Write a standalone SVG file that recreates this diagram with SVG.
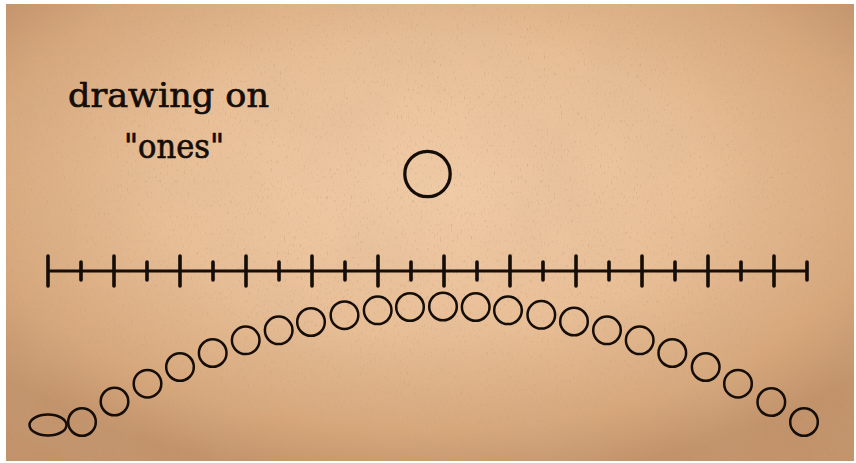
<svg xmlns="http://www.w3.org/2000/svg" width="856" height="463" viewBox="0 0 856 463">
  <defs>
    <radialGradient id="paper" cx="0.5" cy="0.4" r="0.65">
      <stop offset="0" stop-color="#F0CBA6"/>
      <stop offset="0.5" stop-color="#E8BE96"/>
      <stop offset="0.82" stop-color="#D7A77B"/>
      <stop offset="1" stop-color="#C2926A"/>
    </radialGradient>
    <filter id="grain" x="0" y="0" width="100%" height="100%">
      <feTurbulence type="fractalNoise" baseFrequency="0.7 0.25" numOctaves="3" seed="11" result="n"/>
      <feColorMatrix in="n" type="matrix" values="0 0 0 0 0.52  0 0 0 0 0.36  0 0 0 0 0.2  0 0 0 3.2 -2.0"/>
    </filter>
    <filter id="blot" x="0" y="0" width="100%" height="100%">
      <feTurbulence type="fractalNoise" baseFrequency="0.012" numOctaves="3" seed="3" result="n"/>
      <feColorMatrix in="n" type="matrix" values="0 0 0 0 0.6  0 0 0 0 0.43  0 0 0 0 0.27  0 0 0 0.9 -0.3"/>
    </filter>
  </defs>
  <style>
    .ink { stroke: #150d07; fill: none; }
    .axis { stroke-width: 3; }
    .tick { stroke-width: 3.6; stroke-linecap: round; }
    .one { stroke-width: 2.5; }
    .label { font-family: "DejaVu Serif", "Liberation Serif", serif; font-size: 34px; fill: #150d07; stroke: #150d07; stroke-width: 0.7; }
  </style>

  <rect x="0" y="0" width="856" height="463" fill="#FFFFFF"/>
  <g id="background">
    <rect x="6" y="4" width="848" height="457" fill="url(#paper)"/>
    <rect x="6" y="4" width="848" height="457" filter="url(#blot)" opacity="0.35"/>
    <rect x="6" y="4" width="848" height="457" filter="url(#grain)" opacity="0.6"/>
  </g>

  <g id="title">
    <text class="label" x="68" y="107" textLength="201" lengthAdjust="spacingAndGlyphs">drawing on</text>
    <text class="label" x="124" y="158" textLength="100" lengthAdjust="spacingAndGlyphs">"ones"</text>
  </g>

  <g id="single-one">
    <circle class="ink" cx="427.5" cy="174" r="22.7" stroke-width="3.3"/>
  </g>

  <g id="timeline" class="ink">
    <line class="axis" x1="48" y1="271" x2="807" y2="271"/>
    <g class="tick">
      <line x1="48" y1="256" x2="48" y2="286"/>
      <line x1="81" y1="262" x2="81" y2="280"/>
      <line x1="114" y1="256" x2="114" y2="286"/>
      <line x1="147" y1="262" x2="147" y2="280"/>
      <line x1="180" y1="256" x2="180" y2="286"/>
      <line x1="213" y1="262" x2="213" y2="280"/>
      <line x1="246" y1="256" x2="246" y2="286"/>
      <line x1="279" y1="262" x2="279" y2="280"/>
      <line x1="312" y1="256" x2="312" y2="286"/>
      <line x1="345" y1="262" x2="345" y2="280"/>
      <line x1="378" y1="256" x2="378" y2="286"/>
      <line x1="411" y1="262" x2="411" y2="280"/>
      <line x1="444" y1="256" x2="444" y2="286"/>
      <line x1="477" y1="262" x2="477" y2="280"/>
      <line x1="510" y1="256" x2="510" y2="286"/>
      <line x1="543" y1="262" x2="543" y2="280"/>
      <line x1="576" y1="256" x2="576" y2="286"/>
      <line x1="609" y1="262" x2="609" y2="280"/>
      <line x1="642" y1="256" x2="642" y2="286"/>
      <line x1="675" y1="262" x2="675" y2="280"/>
      <line x1="708" y1="256" x2="708" y2="286"/>
      <line x1="741" y1="262" x2="741" y2="280"/>
      <line x1="774" y1="256" x2="774" y2="286"/>
      <line x1="807" y1="262" x2="807" y2="280"/>
    </g>
  </g>

  <g id="ones-arc" class="ink one">
    <ellipse cx="48" cy="425" rx="18.5" ry="10.5"/>
    <circle cx="82" cy="422" r="13.8"/>
    <circle cx="114.5" cy="401.5" r="13.8"/>
    <circle cx="147.5" cy="383.7" r="13.8"/>
    <circle cx="180" cy="367" r="13.8"/>
    <circle cx="212.7" cy="353" r="13.8"/>
    <circle cx="245.7" cy="340.3" r="13.8"/>
    <circle cx="278.7" cy="330.3" r="13.8"/>
    <circle cx="311" cy="322" r="13.8"/>
    <circle cx="344.5" cy="315.2" r="13.8"/>
    <circle cx="377.7" cy="310.3" r="13.8"/>
    <circle cx="410" cy="307" r="13.8"/>
    <circle cx="443" cy="306.5" r="13.8"/>
    <circle cx="475.7" cy="307" r="13.8"/>
    <circle cx="508" cy="310.3" r="13.8"/>
    <circle cx="541.3" cy="314.8" r="13.8"/>
    <circle cx="574" cy="321.5" r="13.8"/>
    <circle cx="607" cy="330.3" r="13.8"/>
    <circle cx="639.7" cy="340.3" r="13.8"/>
    <circle cx="672.3" cy="353" r="13.8"/>
    <circle cx="705.7" cy="367" r="13.8"/>
    <circle cx="738" cy="383.7" r="13.8"/>
    <circle cx="771.3" cy="402" r="13.8"/>
    <circle cx="804" cy="422" r="13.8"/>
  </g>
</svg>
